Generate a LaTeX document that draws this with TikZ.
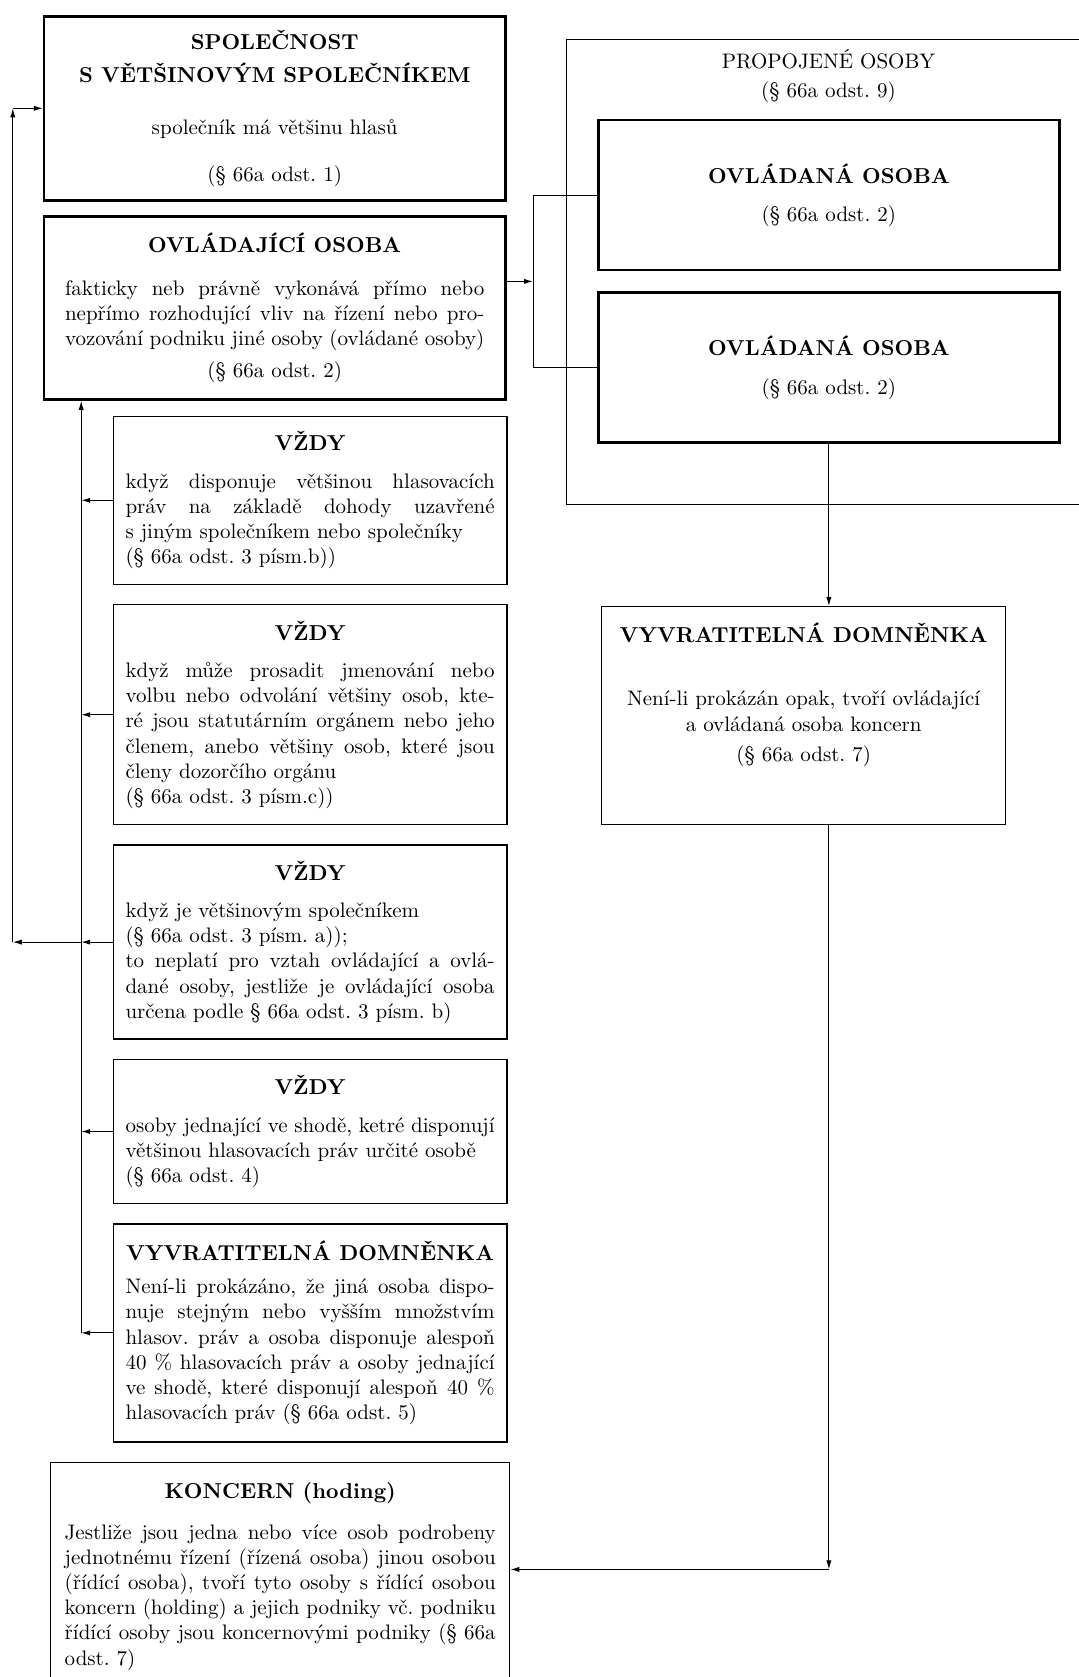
\documentclass[tikz,border=0pt]{standalone}
\usepackage{fontspec}
\usetikzlibrary{positioning,arrows.meta,calc}
\setlength{\parindent}{0pt}
\setlength{\parskip}{0pt}
\frenchspacing
\newcommand{\cl}[1]{{\leftskip=0pt plus 1fil\rightskip=0pt plus 1fil\parfillskip=0pt #1\par}}
\newcommand{\hd}[1]{\cl{\fontsize{10.8}{13}\selectfont\bfseries #1}}

\begin{document}
\begin{tikzpicture}[
    font=\fontsize{10.5}{12.6}\selectfont,
    mainbox/.style={draw, rectangle, line width=1.3pt, inner xsep=10.45pt, inner ysep=0pt, text width=209.7pt, align=justify},
    lawbox/.style={draw, rectangle, line width=0.7pt, inner xsep=6.1pt, inner ysep=0pt, text width=184.6pt, align=justify},
    frame/.style={draw, rectangle, line width=0.5pt},
    link/.style={line width=0.5pt},
    arrow/.style={-{Latex[length=4.5pt,width=2.6pt]}, line width=0.5pt}
]
\useasboundingbox (0,0) rectangle (539.5pt,-838.5pt);

% Levy sloupec (shora dolu)
\node[mainbox, minimum height=92pt, anchor=north west] (spolecnost) at (21.4pt,-7.5pt)
  {\hd{SPOLEČNOST}\vspace{3.4pt}\hd{S VĚTŠINOVÝM SPOLEČNÍKEM}\vspace{13.4pt}
   \cl{společník má většinu hlasů}\vspace{10.9pt}\cl{(§ 66a odst. 1)}};
\node[mainbox, minimum height=91.5pt, below right=6.8pt and 0pt of spolecnost.south west] (ovladajici)
  {\hd{OVLÁDAJÍCÍ OSOBA}\vspace{8.8pt}
   fakticky neb právně vykonává přímo nebo\break
   nepřímo rozhodující vliv na řízení nebo pro-\break
   vozování podniku jiné osoby (ovládané osoby)\par
   \vspace{3.4pt}\cl{(§ 66a odst. 2)}};
\node[lawbox, minimum height=84pt, below right=7.4pt and 34.9pt of ovladajici.south west] (vzdy_b)
  {\hd{VŽDY}\vspace{6.1pt}
   když disponuje většinou hlasovacích\break
   práv na základě dohody uzavřené\break
   s jiným společníkem nebo společníky\par
   (§ 66a odst. 3 písm.b))};
\node[lawbox, minimum height=110pt, below right=9.5pt and 0pt of vzdy_b.south west] (vzdy_c)
  {\hd{VŽDY}\vspace{6.1pt}
   když může prosadit jmenování nebo\break
   volbu nebo odvolání většiny osob, kte-\break
   ré jsou statutárním orgánem nebo jeho\break
   členem, anebo většiny osob, které jsou\break
   členy dozorčího orgánu\par
   (§ 66a odst. 3 písm.c))};
\node[lawbox, minimum height=97pt, below right=9.5pt and 0pt of vzdy_c.south west] (vzdy_a)
  {\hd{VŽDY}\vspace{6.1pt}
   když je většinovým společníkem\par
   (§ 66a odst. 3 písm. a));\par
   to neplatí pro vztah ovládající a ovlá-\break
   dané osoby, jestliže je ovládající osoba\break
   určena podle § 66a odst. 3 písm. b)};
\node[lawbox, minimum height=72pt, below right=9.5pt and 0pt of vzdy_a.south west] (vzdy_shoda)
  {\hd{VŽDY}\vspace{6.6pt}
   osoby jednající ve shodě, ketré disponují\par
   většinou hlasovacích práv určité osobě\par
   (§ 66a odst. 4)};
\node[lawbox, minimum height=109pt, below right=9.5pt and 0pt of vzdy_shoda.south west] (domnenka_l)
  {\hd{VYVRATITELNÁ DOMNĚNKA}\vspace{4pt}
   Není-li prokázáno, že jiná osoba dispo-\break
   nuje stejným nebo vyšším množstvím\break
   hlasov. práv a osoba disponuje alespoň\break
   40 \% hlasovacích práv a osoby jednající\break
   ve shodě, které disponují alespoň 40 \%\break
   hlasovacích práv (§ 66a odst. 5)};
\node[lawbox, text width=215.5pt, inner xsep=7pt, inner ysep=10pt, below right=9.5pt and -31.3pt of domnenka_l.south west] (koncern)
  {\hd{KONCERN (hoding)}\vspace{7.7pt}
   Jestliže jsou jedna nebo více osob podrobeny\break
   jednotnému řízení (řízená osoba) jinou osobou\break
   (řídící osoba), tvoří tyto osoby s řídící osobou\break
   koncern (holding) a jejich podniky vč. podniku\break
   řídící osoby jsou koncernovými podniky (§ 66a\break
   odst. 7)};

% Pravy sloupec
\node[frame, minimum width=262pt, minimum height=232.75pt, anchor=north west] (propojene) at (283pt,-19.25pt) {};
\node[below=2pt of propojene.north, align=center] (propojene_txt) {PROPOJENÉ OSOBY\\[1.8pt](§ 66a odst. 9)};
\node[mainbox, minimum height=75pt, anchor=north west] (ovladana_1) at (298.5pt,-59.4pt)
  {\hd{OVLÁDANÁ OSOBA}\vspace{6.6pt}\cl{(§ 66a odst. 2)}};
\node[mainbox, minimum height=75pt, below right=10pt and 0pt of ovladana_1.south west] (ovladana_2)
  {\hd{OVLÁDANÁ OSOBA}\vspace{6.6pt}\cl{(§ 66a odst. 2)}};
\node[lawbox, text width=190pt, inner xsep=6pt, minimum height=109pt, below right=81pt and 2pt of ovladana_2.south west] (domnenka_r)
  {\hd{VYVRATITELNÁ DOMNĚNKA}\vspace{18.9pt}
   \cl{Není-li prokázán opak, tvoří ovládající}
   \cl{a ovládaná osoba koncern}\vspace{2.4pt}
   \cl{(§ 66a odst. 7)}\vspace{21pt}\hrule height 0pt};

% Spojnice vlevo
\coordinate (inner) at ([xshift=19.2pt]ovladajici.south west);
\coordinate (outer) at ([xshift=-15pt]ovladajici.south west);
\foreach \nm in {vzdy_b,vzdy_c,vzdy_a,vzdy_shoda,domnenka_l}
  \draw[arrow] (\nm.west) -- (\nm.west -| inner);
\draw[arrow] (domnenka_l.west -| inner) -- (inner);
\draw[arrow] (vzdy_a.west -| inner) -- (vzdy_a.west -| outer);
\draw[arrow] (vzdy_a.west -| outer) -- (spolecnost.west -| outer);
\draw[arrow] (spolecnost.west -| outer) -- (spolecnost.west);

% Spojnice vpravo
\coordinate (brk) at ([xshift=-32pt]ovladana_1.west);
\draw[link] (ovladana_1.west) -- (brk) -- (brk |- ovladana_2.west) -- (ovladana_2.west);
\coordinate (brkmid) at ($(brk)!0.5!(brk |- ovladana_2.west)$);
\draw[arrow] (brkmid -| ovladajici.east) -- (brkmid);
\draw[arrow] (ovladana_2.south) -- (ovladana_2.south |- domnenka_r.north);
\coordinate (bend) at ([yshift=-372pt]ovladana_2.south |- domnenka_r.south);
\draw[arrow] (ovladana_2.south |- domnenka_r.south) -- (bend);
\draw[arrow] (bend) -- (bend -| koncern.east);

\end{tikzpicture}
\end{document}
